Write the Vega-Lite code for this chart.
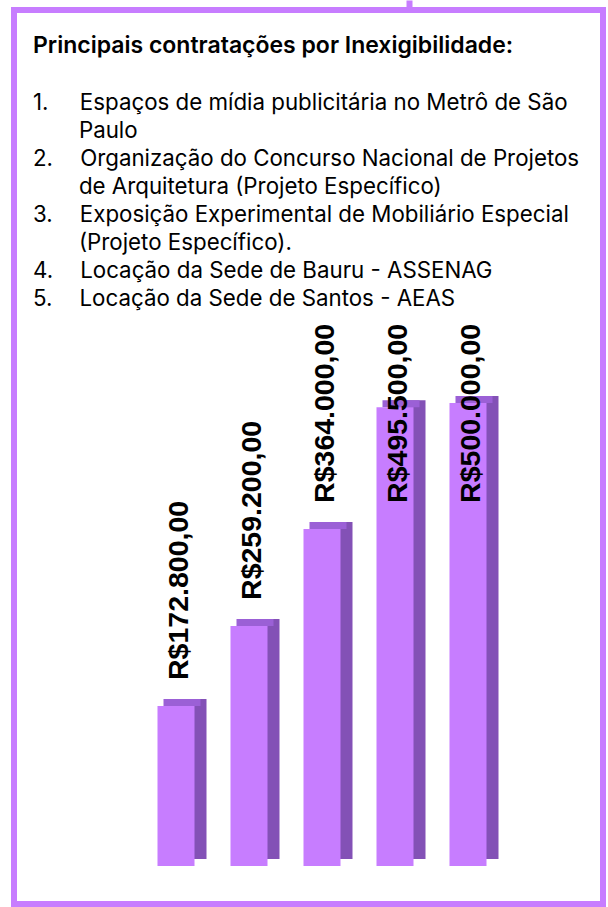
{
  "$schema": "https://vega.github.io/schema/vega-lite/v6.json",
  "autosize": {"type": "none"},
  "width": 589,
  "height": 894,
  "padding": {"left": 14, "top": 10, "right": 5, "bottom": 3},
  "background": "white",
  "view": {"stroke": "#c77dff", "strokeWidth": 6, "fill": "white"},
  "title": {
    "text": "Principais contratações por Inexigibilidade:",
    "subtitle": [
      "1.\u00a0\u00a0\u00a0\u00a0\u00a0Espaços de mídia publicitária no Metrô de São",
      "\u2060\u00a0\u00a0\u00a0\u00a0\u00a0\u00a0\u00a0\u200aPaulo",
      "2.\u00a0\u00a0\u00a0\u00a0\u200aOrganização do Concurso Nacional de Projetos",
      "\u2060\u00a0\u00a0\u00a0\u00a0\u00a0\u00a0\u00a0\u200ade Arquitetura (Projeto Específico)",
      "3.\u00a0\u00a0\u00a0\u00a0\u200aExposição Experimental de Mobiliário Especial",
      "\u2060\u00a0\u00a0\u00a0\u00a0\u00a0\u00a0\u00a0\u200a(Projeto Específico).",
      "4.\u00a0\u00a0\u00a0\u00a0\u200aLocação da Sede de Bauru - ASSENAG",
      "5.\u00a0\u00a0\u00a0\u00a0\u200aLocação da Sede de Santos - AEAS"
    ],
    "anchor": "start",
    "frame": "group",
    "orient": "top",
    "offset": -273,
    "dx": 19,
    "dy": 40,
    "font": "Inter",
    "fontSize": 23,
    "fontWeight": 600,
    "color": "#000000",
    "subtitleFont": "Inter",
    "subtitleFontSize": 22.3,
    "subtitleColor": "#000000",
    "subtitleLineHeight": 28,
    "subtitlePadding": 34
  },
  "data": {
    "values": [
      {"item": "1", "value": 172800, "label": "R$172.800,00"},
      {"item": "2", "value": 259200, "label": "R$259.200,00"},
      {"item": "3", "value": 364000, "label": "R$364.000,00"},
      {"item": "4", "value": 495500, "label": "R$495.500,00"},
      {"item": "5", "value": 500000, "label": "R$500.000,00"}
    ]
  },
  "encoding": {
    "x": {
      "field": "item",
      "type": "ordinal",
      "sort": null,
      "scale": {"paddingInner": 0.493, "paddingOuter": 0, "range": [143.5, 472.5]},
      "axis": {
        "orient": "top",
        "values": ["4"],
        "labels": false,
        "domain": false,
        "grid": false,
        "ticks": true,
        "tickSize": 10,
        "tickWidth": 6,
        "tickColor": "#c77dff",
        "tickOffset": 14,
        "title": null
      }
    }
  },
  "layer": [
    {
      "mark": {"type": "bar", "color": "#8351b6", "xOffset": 12, "yOffset": -7, "y2Offset": -7},
      "encoding": {
        "y": {"field": "value", "type": "quantitative", "scale": {"domain": [0, 500000], "range": [856, 393]}, "axis": null}
      }
    },
    {
      "mark": {"type": "bar", "color": "#9b60d6", "xOffset": 6, "yOffset": -7, "y2Offset": 0},
      "encoding": {
        "y": {"field": "value", "type": "quantitative", "scale": {"domain": [0, 500000], "range": [856, 393]}, "axis": null},
        "y2": {"field": "value"}
      }
    },
    {
      "mark": {"type": "bar", "color": "#c77dff"},
      "encoding": {
        "y": {"field": "value", "type": "quantitative", "scale": {"domain": [0, 500000], "range": [856, 393]}, "axis": null}
      }
    },
    {
      "mark": {"type": "text", "angle": 270, "align": "left", "baseline": "middle", "dx": 26, "xOffset": 3, "font": "Liberation Sans", "fontSize": 28.5, "fontWeight": "bold", "color": "#000000"},
      "encoding": {
        "y": {"field": "value", "type": "quantitative", "scale": {"domain": [0, 364000], "range": [856, 518.9], "clamp": true}, "axis": null},
        "text": {"field": "label"}
      }
    }
  ],
  "resolve": {"scale": {"y": "independent"}}
}
